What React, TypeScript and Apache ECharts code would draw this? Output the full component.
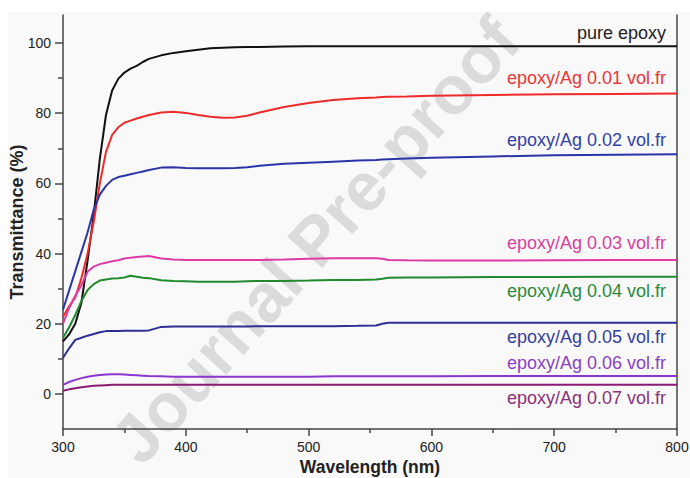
import React, { useEffect, useRef } from "react";
import * as echarts from "echarts";

const wavelength = [300, 305, 310, 315, 320, 325, 330, 335, 340, 345, 350, 355, 360, 365, 370, 380, 390, 400, 410, 420, 430, 440, 450, 460, 480, 500, 520, 540, 555, 560, 565, 580, 600, 650, 700, 750, 800];

const pureEpoxy = [15, 17, 20, 26, 38, 51, 67, 79.5, 86.5, 89.8, 91.6, 92.7, 93.5, 94.6, 95.5, 96.5, 97.2, 97.7, 98.1, 98.5, 98.7, 98.8, 98.9, 98.9, 99, 99.1, 99.1, 99.1, 99.1, 99.1, 99.1, 99.1, 99.1, 99.1, 99.1, 99.1, 99.1];
const ag001 = [22, 25, 27.5, 33, 40, 49, 60, 69, 73.8, 76, 77.3, 77.9, 78.5, 79, 79.5, 80.2, 80.4, 80.1, 79.5, 79, 78.7, 78.8, 79.3, 80.2, 81.8, 82.9, 83.8, 84.3, 84.5, 84.6, 84.7, 84.8, 85, 85.2, 85.4, 85.5, 85.6];
const ag002 = [24, 29.5, 35, 40.5, 46, 52.5, 56.8, 59.3, 61, 61.8, 62.2, 62.6, 63, 63.4, 63.8, 64.5, 64.6, 64.4, 64.3, 64.3, 64.3, 64.4, 64.6, 65, 65.6, 65.9, 66.2, 66.5, 66.7, 66.8, 66.9, 67.1, 67.3, 67.7, 68, 68.2, 68.3];
const ag003 = [20, 24.5, 28, 31, 34.8, 36.3, 37, 37.4, 37.8, 38.1, 38.6, 38.8, 39, 39.2, 39.3, 38.6, 38.3, 38.2, 38.2, 38.2, 38.2, 38.2, 38.2, 38.2, 38.3, 38.5, 38.7, 38.7, 38.7, 38.5, 38.2, 38.1, 38, 38, 38.1, 38.2, 38.2];
const ag004 = [16, 19, 22.5, 26.5, 29.6, 31.3, 32.3, 32.6, 32.9, 33, 33.2, 33.7, 33.4, 33.1, 33, 32.4, 32.2, 32.1, 32, 32, 32, 32, 32.1, 32.2, 32.2, 32.3, 32.5, 32.5, 32.6, 32.8, 33.1, 33.2, 33.2, 33.3, 33.3, 33.4, 33.4];
const ag005 = [10.3, 13, 15.4, 16, 16.6, 17.1, 17.6, 17.9, 17.9, 17.9, 18, 18, 18, 18, 18.1, 19.1, 19.2, 19.2, 19.2, 19.2, 19.2, 19.2, 19.2, 19.3, 19.3, 19.3, 19.3, 19.4, 19.5, 20, 20.3, 20.3, 20.3, 20.3, 20.3, 20.3, 20.3];
const ag006 = [2.6, 3.4, 4, 4.5, 4.9, 5.2, 5.4, 5.5, 5.6, 5.6, 5.5, 5.4, 5.3, 5.2, 5.1, 5, 4.9, 4.9, 4.9, 4.9, 4.9, 4.9, 4.9, 4.9, 4.9, 4.9, 5, 5, 5, 5, 5, 5, 5, 5.1, 5.1, 5.1, 5.1];
const ag007 = [0.9, 1.3, 1.6, 1.9, 2.1, 2.3, 2.4, 2.5, 2.6, 2.6, 2.6, 2.6, 2.6, 2.6, 2.6, 2.6, 2.6, 2.6, 2.6, 2.6, 2.6, 2.6, 2.6, 2.6, 2.6, 2.6, 2.6, 2.6, 2.6, 2.6, 2.6, 2.6, 2.6, 2.6, 2.6, 2.6, 2.6];

const seriesNames = ["pure epoxy", "epoxy/Ag 0.01 vol.fr", "epoxy/Ag 0.02 vol.fr", "epoxy/Ag 0.03 vol.fr", "epoxy/Ag 0.04 vol.fr", "epoxy/Ag 0.05 vol.fr", "epoxy/Ag 0.06 vol.fr", "epoxy/Ag 0.07 vol.fr"];
const seriesValues = [pureEpoxy, ag001, ag002, ag003, ag004, ag005, ag006, ag007];
const lineColors = ["#111111", "#ee2a2a", "#2b35a8", "#dd3aa5", "#1f8a2e", "#2e2e96", "#8a36d0", "#8b1c74"];
const labelColors = ["#222222", "#ee3535", "#3340a8", "#d8409f", "#2b8a3a", "#35409a", "#8a40c4", "#8c3078"];
const labelY = [33, 78, 140, 243, 291, 337, 363, 398];

const yTicks = [0, 20, 40, 60, 80, 100];
const yMinorTicks = [10, 30, 50, 70, 90];

export default function App() {
  const ref = useRef<HTMLDivElement>(null);

  useEffect(() => {
    if (!ref.current) return;
    const chart = echarts.init(ref.current, null, { renderer: "svg" });
    const axisColor = "#444444";
    const font = "Arial, 'Liberation Sans', sans-serif";

    const series = seriesValues.map((vals, i) => ({
      type: "line",
      name: seriesNames[i],
      data: wavelength.map((w, j) => [w, vals[j]]),
      showSymbol: false,
      symbol: "none",
      lineStyle: { color: lineColors[i], width: 2 },
      itemStyle: { color: lineColors[i] },
      z: 3,
    }));

    const labels = seriesNames.map((n, i) => ({
      type: "text",
      x: 666,
      y: labelY[i],
      z: 10,
      style: {
        text: n,
        fill: labelColors[i],
        fontSize: 18,
        fontFamily: font,
        align: "right",
        verticalAlign: "middle",
      },
    }));

    chart.setOption({
      animation: false,
      textStyle: { fontFamily: font },
      grid: { left: 63, right: 13, top: 15, bottom: 49, containLabel: false, outerBoundsMode: "none" },
      xAxis: {
        type: "value",
        min: 300,
        max: 800,
        interval: 100,
        name: "Wavelength (nm)",
        nameLocation: "middle",
        nameGap: 29,
        nameMoveOverlap: false,
        nameTextStyle: { fontSize: 17.5, fontWeight: "bold", color: "#222", fontFamily: font },
        axisLine: { show: true, onZero: false, lineStyle: { color: axisColor, width: 1.5 } },
        axisTick: { show: true, inside: false, length: 7, lineStyle: { color: axisColor, width: 1.5 } },
        minorTick: { show: true, splitNumber: 2, length: 4, lineStyle: { color: axisColor, width: 1.5 } },
        axisLabel: { fontSize: 14, color: "#222", margin: 11, fontFamily: font },
        splitLine: { show: false },
      },
      yAxis: [
        {
          type: "value",
          min: -10,
          max: 108,
          position: "left",
          name: "Transmittance (%)",
          nameLocation: "middle",
          nameGap: 37,
          nameMoveOverlap: false,
          nameTextStyle: { fontSize: 18, fontWeight: "bold", color: "#222", fontFamily: font },
          axisLine: { show: true, onZero: false, lineStyle: { color: axisColor, width: 1.5 } },
          axisTick: { show: true, inside: false, length: 8, customValues: yTicks, lineStyle: { color: axisColor, width: 1.5 } },
          axisLabel: { customValues: yTicks, fontSize: 14, color: "#222", margin: 12, fontFamily: font },
          splitLine: { show: false },
        },
        {
          type: "value",
          min: -10,
          max: 108,
          position: "left",
          axisLine: { show: false, onZero: false },
          axisTick: { show: true, inside: false, length: 5, customValues: yMinorTicks, lineStyle: { color: axisColor, width: 1.5 } },
          axisLabel: { show: false },
          splitLine: { show: false },
        },
        {
          type: "value",
          min: -10,
          max: 108,
          position: "right",
          axisLine: { show: true, onZero: false, lineStyle: { color: axisColor, width: 1.5 } },
          axisTick: { show: false },
          axisLabel: { show: false },
          splitLine: { show: false },
        },
      ],
      graphic: [
        {
          type: "text",
          x: 315,
          y: 240,
          rotation: (48 * Math.PI) / 180,
          z: 0,
          silent: true,
          style: {
            text: "Journal Pre-proof",
            fill: "rgba(150,150,150,0.3)",
            fontSize: 68,
            fontWeight: "bold",
            fontFamily: font,
            align: "center",
            verticalAlign: "middle",
          },
        },
        ...labels,
      ],
      series,
    });

    return () => chart.dispose();
  }, []);

  return (
    <div style={{ position: "fixed", left: 0, top: 0, width: 690, height: 478, background: "#ffffff" }}>
      <div style={{ position: "absolute", left: 8, top: 12, width: 682, height: 466, background: "#f9f9f9" }} />
      <div ref={ref} style={{ position: "absolute", left: 0, top: 0, width: 690, height: 478 }} />
    </div>
  );
}
